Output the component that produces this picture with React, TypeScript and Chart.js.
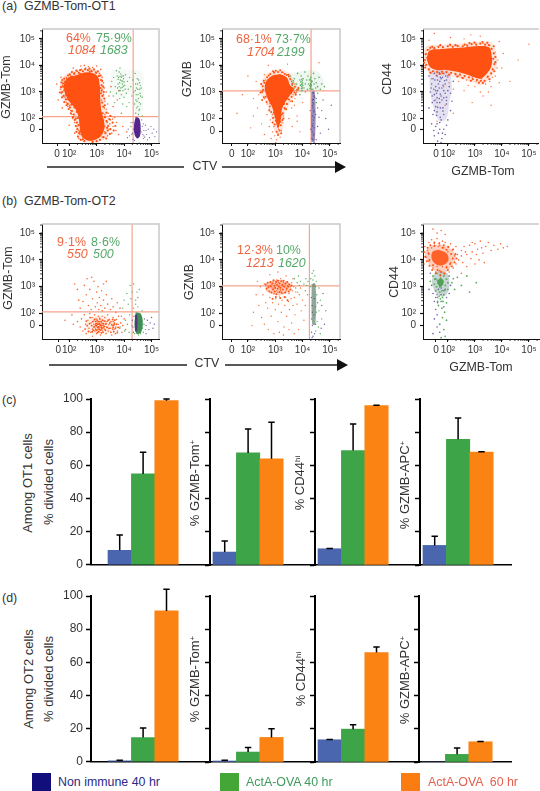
import React, { useEffect, useRef } from "react";
import { Chart, registerables } from "chart.js";
Chart.register(...registerables);

type Pt = [number, number];
const FONT = '"Liberation Sans", Arial, sans-serif';
const ORANGE = "#ff5212";
const HALO = "rgba(255,90,30,0.16)";
const DOT_ORANGE = "#fb6a35";
const DOT_GREEN = "#58ad5e";
const DOT_PURPLE = "#6f5fa8";
const CORE_PURPLE = "#55248e";
const GATE = "#f6a48c";

// ---- bar values (percent) ----
const barGroups = ["Non immune 40 hr", "ActA-OVA 40 hr", "ActA-OVA 60 hr"];
const c1Values = [8.8, 54.8, 99];
const c1Upper = [18, 67.9, 100];
const c2Values = [7.8, 67.5, 64];
const c2Upper = [14.5, 82, 86];
const c3Values = [9.8, 69, 96];
const c3Upper = [10, 85, 96.2];
const c4Values = [11.8, 75.7, 68];
const c4Upper = [17.3, 88.6, 68.2];
const d1Values = [0.6, 14.6, 91];
const d1Upper = [1, 20.4, 104];
const d2Values = [0.6, 6, 14.8];
const d2Upper = [1, 8.8, 20];
const d3Values = [13.4, 19.8, 65.9];
const d3Upper = [13.6, 22.4, 69.3];
const d4Values = [0, 4.6, 12.2];
const d4Upper = [0, 8.4, 12.4];
const barYTicks = [0, 20, 40, 60, 80, 100];

// ---- flow cytometry axes: values are log10 fluorescence ----
const flowTickLabels = ["0", "10²", "10³", "10⁴", "10⁵"];

// (a) left: GZMB-Tom vs CTV
const a1Gate: Pt = [4.33, 2.07];
const a1Blob: Pt[] = [[2.22,3.62],[2.65,3.74],[3.01,3.62],[3.11,3.28],[3.13,2.79],[3.17,2.3],[3.28,1.82],[3.23,1.45],[3.01,1.23],[2.71,1.16],[2.46,1.33],[2.38,1.7],[2.34,2.06],[2.22,2.37],[1.98,2.67],[1.82,3.04],[1.82,3.34],[1.98,3.55],[2.22,3.62]];
const a1Halo: Pt[] = [[2.15,3.78],[2.65,3.88],[3.12,3.75],[3.25,3.3],[3.28,2.8],[3.32,2.3],[3.45,1.8],[3.4,1.35],[3.1,1.12],[2.7,1.1],[2.35,1.22],[2.25,1.65],[2.2,2.0],[2.08,2.3],[1.85,2.6],[1.68,3.0],[1.68,3.4],[1.85,3.65],[2.15,3.78]];
const a1GreenCloud: Pt[] = [[3.55,3.85],[4.1,3.85],[4.65,3.75],[4.7,3.0],[4.65,2.2],[4.4,2.2],[4.3,2.9],[4.05,2.85],[3.7,2.75],[3.5,3.1],[3.55,3.85]];
const a1Column: Pt[] = [[4.42,2.06],[4.55,2.0],[4.6,1.7],[4.58,1.35],[4.48,1.25],[4.38,1.4],[4.36,1.75],[4.42,2.06]];
const a1Edge: Pt[] = [[1.75,3.45],[1.78,3.2],[1.74,3.0],[1.8,2.85],[1.88,2.72],[1.95,2.55],[2.03,2.42],[2.1,2.28],[2.17,2.15],[2.24,2.0],[2.28,1.85],[2.3,1.6],[2.36,1.45],[2.42,1.2],[2.55,1.15],[2.85,1.12],[3.0,1.15],[3.12,1.2],[3.25,1.3],[3.32,1.45],[3.38,1.65],[3.36,1.9],[3.3,2.05],[3.22,2.2],[3.24,2.45],[3.2,2.6],[3.21,2.85],[3.18,3.05],[3.18,3.25],[3.16,3.45],[3.08,3.6],[2.98,3.72],[2.82,3.78],[2.68,3.82],[2.5,3.78],[2.35,3.72],[2.18,3.68],[2.02,3.66],[1.92,3.48],[1.86,3.38],[1.84,3.1],[1.88,2.9],[1.97,2.72],[2.08,2.52],[2.2,2.45],[2.28,2.25],[2.32,2.02],[2.34,1.75],[2.4,1.52],[2.5,1.22],[3.15,1.42],[3.28,1.7],[3.18,2.0],[3.12,2.42],[3.16,2.95],[3.14,3.15],[3.05,3.45],[2.75,3.76],[2.4,3.68],[2.1,3.58],[1.78,3.32],[3.4,1.55],[3.42,1.72],[3.35,1.25],[3.5,1.6],[3.48,1.42],[3.5,2.1],[3.58,1.85],[3.62,1.55],[3.68,1.72],[3.46,1.98],[3.36,2.22],[3.3,2.5],[3.28,2.75],[3.26,3.0],[3.24,3.2],[3.2,3.42],[3.14,3.62],[3.04,3.78],[2.9,3.85],[2.74,3.88],[2.58,3.86],[2.4,3.82],[2.26,3.8],[2.1,3.75],[1.96,3.62],[1.82,3.5],[1.72,3.36],[1.7,3.18],[1.66,2.98],[1.74,2.8],[1.82,2.62],[1.9,2.5],[1.98,2.36],[2.06,2.2],[2.14,2.05],[2.2,1.95],[2.24,1.72],[2.26,1.5],[2.32,1.32]];
const a1Orange: Pt[] = [[2.3,3.78],[2.45,3.85],[2.6,3.9],[2.8,3.82],[2.95,3.75],[3.1,3.7],[2.2,3.72],[2.05,3.6],[2.7,3.95],[3.2,3.55],[1.9,3.55],[1.82,3.4],[1.75,3.25],[1.8,3.05],[1.72,2.95],[1.85,2.8],[1.9,2.6],[1.95,2.45],[2.05,2.3],[2.1,2.15],[1.85,3.15],[1.95,3.45],[1.68,3.1],[2.0,2.7],[2.12,2.0],[2.2,1.85],[2.28,1.7],[2.35,1.55],[2.4,1.4],[2.5,1.3],[2.65,1.25],[2.8,1.28],[2.95,1.33],[3.05,1.42],[3.15,1.55],[3.2,1.75],[3.25,1.95],[3.3,2.15],[3.28,2.4],[3.3,2.65],[3.25,2.9],[3.28,3.15],[3.25,3.35],[3.35,3.0],[3.4,2.55],[3.42,2.2],[3.38,1.85],[3.45,1.6],[3.5,1.95],[3.55,1.45],[3.6,1.7],[3.65,2.05],[3.7,1.55],[3.72,1.85],[3.3,1.5],[3.4,1.35],[3.2,1.3],[3.48,1.8],[3.58,1.98],[3.35,2.35],[3.45,2.85],[3.52,3.2],[3.6,2.45],[3.15,3.85],[2.55,4.0],[2.15,3.9],[3.0,3.98],[1.6,2.7],[1.75,2.4],[1.55,3.3],[2.0,1.75],[2.2,1.45],[2.35,1.25],[3.8,1.4],[3.95,1.7],[3.9,2.2],[3.75,2.7],[3.82,3.05],[4.1,1.5],[1.7,3.55],[2.02,2.5],[2.18,2.4],[3.12,2.15],[3.18,2.7],[3.2,3.1],[3.12,1.35],[3.25,1.62],[2.92,1.22],[2.42,3.98],[2.85,3.92]];
const a1Green: Pt[] = [[3.5,3.0],[3.55,3.4],[3.6,2.85],[3.62,3.55],[3.68,3.2],[3.72,2.95],[3.75,3.6],[3.78,3.3],[3.8,3.05],[3.82,3.75],[3.84,2.75],[3.86,3.45],[3.88,3.15],[3.9,2.9],[3.92,3.6],[3.94,3.3],[3.96,3.05],[3.98,3.5],[4.0,2.8],[4.02,3.25],[4.05,3.65],[4.08,2.95],[4.12,3.4],[4.15,3.1],[4.18,2.6],[4.2,3.55],[4.24,3.2],[4.28,2.85],[4.32,3.45],[4.35,3.0],[4.38,2.55],[4.4,3.7],[4.42,3.3],[4.44,2.9],[4.46,2.4],[4.48,3.5],[4.5,3.1],[4.52,2.75],[4.54,2.3],[4.56,3.35],[4.58,2.95],[4.6,2.55],[4.62,3.15],[4.66,2.8],[3.85,3.9],[3.72,3.8],[3.95,2.55],[3.66,2.6],[4.1,2.45],[3.85,3.58],[3.92,3.42],[3.78,3.48],[3.88,3.68],[3.98,3.22],[4.52,2.15],[4.42,2.2],[4.7,1.8],[4.62,1.5],[4.66,2.1],[4.25,1.7],[4.28,1.4],[4.72,1.35],[3.82,3.2],[3.84,3.35],[3.86,3.05],[3.9,3.55],[3.93,3.18],[3.95,3.4],[3.97,3.6],[3.8,3.55],[3.76,3.15],[4.0,3.38],[4.04,3.1],[4.45,3.15],[4.47,2.65],[4.49,3.3],[4.51,2.9],[4.53,3.45],[4.55,2.6],[4.57,3.1],[4.43,2.7],[4.41,3.05],[4.6,2.85],[4.59,3.25],[4.5,2.45],[4.56,2.35]];
const a1Purple: Pt[] = [[4.15,1.6],[4.2,1.35],[4.25,1.85],[4.3,1.45],[4.32,1.22],[4.72,1.55],[4.78,1.75],[4.82,1.4],[4.88,1.6],[4.92,1.28],[4.98,1.7],[5.02,1.45],[5.08,1.6],[5.12,1.32],[5.18,1.5],[4.7,1.25],[4.8,1.55],[4.75,1.3],[4.85,1.2],[4.12,1.28],[4.38,1.18],[4.55,1.08],[4.66,1.7],[4.68,1.4],[4.64,1.95],[4.32,1.85],[4.34,1.6]];

// (a) middle: GZMB vs CTV
const a2Gate: Pt = [4.31, 3.04];
const a2Blob: Pt[] = [[3.17,3.68],[3.43,3.54],[3.54,3.25],[3.68,3.1],[3.54,2.88],[3.39,2.66],[3.25,2.37],[3.21,2.0],[3.1,1.63],[3.0,2.0],[2.88,2.44],[2.73,2.73],[2.62,3.1],[2.66,3.39],[2.88,3.61],[3.17,3.68]];
const a2Halo: Pt[] = [[3.15,3.85],[3.5,3.72],[3.72,3.35],[3.9,3.1],[3.65,2.75],[3.5,2.5],[3.35,2.2],[3.3,1.7],[3.15,1.35],[2.95,1.6],[2.85,2.1],[2.72,2.55],[2.5,2.85],[2.45,3.15],[2.55,3.5],[2.85,3.78],[3.15,3.85]];
const a2GreenCloud: Pt[] = [[3.5,3.7],[4.5,3.8],[4.8,3.3],[4.6,3.05],[3.7,3.05],[3.5,3.7]];
const a2Column: Pt[] = [[4.33,3.0],[4.45,3.0],[4.45,1.15],[4.33,1.15],[4.33,3.0]];
const a2Edge: Pt[] = [[3.1,3.75],[3.25,3.74],[3.42,3.64],[3.55,3.48],[3.62,3.3],[3.72,3.2],[3.8,3.08],[3.7,2.98],[3.6,2.82],[3.5,2.72],[3.42,2.55],[3.34,2.4],[3.28,2.2],[3.26,1.95],[3.2,1.75],[3.16,1.55],[3.05,1.5],[2.98,1.78],[2.92,2.02],[2.85,2.25],[2.8,2.45],[2.68,2.62],[2.58,2.8],[2.52,3.0],[2.54,3.22],[2.58,3.42],[2.7,3.55],[2.82,3.68],[2.96,3.72],[3.02,3.8],[3.35,3.68],[3.5,3.58],[3.62,3.12],[3.58,2.95],[3.44,2.75],[3.32,2.55],[3.24,2.15],[3.18,1.88],[3.02,1.92],[2.95,2.22],[2.82,2.58],[2.65,2.82],[2.56,3.08],[2.6,3.35],[2.76,3.62],[2.92,3.78],[3.18,3.82],[3.48,3.65],[3.85,3.15],[3.75,2.9],[3.62,2.65],[3.4,2.35],[3.3,2.0],[3.22,1.45],[3.1,1.38],[2.9,1.85],[2.78,2.3],[2.52,2.7],[2.46,2.98],[2.48,3.3]];
const a2Orange: Pt[] = [[2.5,3.3],[2.55,3.05],[2.6,2.75],[2.4,2.9],[2.65,3.45],[2.7,2.55],[2.78,2.35],[2.7,2.15],[2.82,1.95],[2.78,1.7],[2.9,1.5],[2.98,1.35],[2.85,1.25],[3.05,1.2],[3.18,1.3],[3.22,1.55],[3.25,1.85],[3.3,2.1],[3.35,2.35],[3.45,2.55],[3.55,2.65],[3.6,2.4],[3.72,2.75],[3.7,2.5],[3.5,2.0],[3.62,1.7],[3.8,2.1],[3.9,1.5],[2.35,2.4],[2.2,2.1],[2.1,1.65],[2.5,1.8],[2.6,1.4],[2.3,3.4],[2.6,3.65],[2.95,3.75],[3.3,3.72],[3.55,3.5],[3.72,3.3],[3.65,2.9],[3.78,3.0],[2.95,1.7],[3.12,1.6],[3.05,1.85],[3.15,2.0],[2.9,2.15],[3.2,2.35],[2.95,2.05],[3.1,1.45],[3.02,1.1],[2.0,3.6],[2.2,2.75],[4.0,2.6],[4.1,3.0],[2.75,4.0],[3.45,4.05],[1.8,2.9],[1.6,2.2],[4.6,4.1],[3.8,1.9]];
const a2Green: Pt[] = [[3.5,3.25],[3.55,3.6],[3.6,3.4],[3.65,3.15],[3.7,3.5],[3.78,3.3],[3.82,3.7],[3.85,3.1],[3.9,3.45],[3.92,3.25],[3.95,3.6],[3.98,3.05],[4.0,3.35],[4.02,3.5],[4.05,3.15],[4.08,3.75],[4.1,3.3],[4.15,3.45],[4.18,3.1],[4.2,3.6],[4.22,3.3],[4.25,3.45],[4.27,3.12],[4.3,3.55],[4.32,3.25],[4.35,3.4],[4.38,3.1],[4.4,3.7],[4.42,3.3],[4.45,3.5],[4.48,3.15],[4.5,3.35],[4.55,3.2],[4.6,3.55],[4.65,3.1],[4.7,3.3],[4.8,3.2],[3.98,3.3],[3.97,3.2],[3.99,3.42],[3.96,3.12],[4.3,3.2],[4.29,3.32],[4.31,3.42],[4.45,2.8],[4.5,2.6],[4.55,2.95],[3.75,2.95],[3.9,2.9],[3.96,3.28],[3.99,3.15],[4.01,3.25],[3.94,3.38],[3.97,3.48],[3.65,3.35],[3.62,3.25],[3.68,3.12],[3.66,3.42],[4.28,3.15],[4.3,3.28],[4.32,3.38],[4.28,3.48],[4.33,3.1],[4.26,3.24]];
const a2Purple: Pt[] = [[4.38,3.0],[4.42,2.85],[4.36,2.7],[4.4,2.55],[4.38,2.4],[4.42,2.25],[4.36,2.1],[4.4,1.95],[4.38,1.8],[4.42,1.65],[4.36,1.5],[4.4,1.35],[4.38,1.2],[4.42,1.1],[4.5,2.75],[4.55,2.4],[4.6,2.05],[4.55,1.7],[4.65,1.45],[4.7,2.3],[4.75,2.7],[4.85,2.0],[4.95,1.6],[5.05,2.5],[4.3,1.6],[4.28,2.3],[4.34,1.25],[4.39,2.95],[4.37,2.6],[4.41,2.3],[4.4,2.72],[4.36,2.48],[4.43,2.05],[4.37,1.72],[4.41,1.42],[4.5,1.2],[4.48,2.15]];

// (a) right: CD44 vs GZMB-Tom
const a3Blob: Pt[] = [[1.21,4.26],[1.33,4.56],[1.82,4.62],[2.43,4.66],[3.04,4.72],[3.52,4.68],[3.62,4.38],[3.62,4.01],[3.46,3.71],[3.22,3.5],[2.98,3.55],[2.67,3.67],[2.3,3.77],[1.94,3.83],[1.57,3.83],[1.33,3.95],[1.21,4.26]];
const a3Halo: Pt[] = [[1.1,4.3],[1.2,4.72],[1.8,4.78],[2.45,4.82],[3.05,4.9],[3.62,4.85],[3.8,4.4],[3.8,3.95],[3.6,3.55],[3.25,3.25],[2.95,3.35],[2.65,3.45],[2.25,3.55],[1.9,3.62],[1.5,3.65],[1.22,3.8],[1.1,4.3]];
const a3PurpleCloud: Pt[] = [[1.3,3.8],[2.0,3.8],[2.15,3.2],[2.05,2.6],[1.95,2.0],[1.7,1.9],[1.5,2.3],[1.35,3.0],[1.3,3.8]];
const a3Edge: Pt[] = [[1.15,4.2],[1.18,4.42],[1.25,4.58],[1.35,4.66],[1.5,4.64],[1.65,4.7],[1.82,4.68],[2.0,4.72],[2.18,4.7],[2.35,4.74],[2.55,4.72],[2.72,4.74],[2.88,4.8],[3.05,4.78],[3.2,4.82],[3.38,4.78],[3.52,4.76],[3.62,4.62],[3.7,4.45],[3.68,4.25],[3.72,4.05],[3.66,3.85],[3.6,3.7],[3.48,3.58],[3.36,3.42],[3.22,3.42],[3.08,3.45],[2.92,3.48],[2.78,3.55],[2.62,3.6],[2.45,3.65],[2.28,3.68],[2.12,3.72],[1.95,3.75],[1.78,3.76],[1.6,3.75],[1.45,3.78],[1.3,3.85],[1.2,4.02],[1.12,4.1],[1.42,4.7],[1.72,4.76],[2.08,4.78],[2.28,4.76],[2.62,4.78],[2.8,4.84],[2.98,4.86],[3.28,4.88],[3.46,4.85],[3.7,4.72],[3.76,4.32],[3.76,4.12],[3.72,3.78],[3.54,3.48],[3.3,3.34],[3.15,3.35],[2.85,3.42],[2.55,3.52],[2.35,3.58],[2.05,3.65],[1.7,3.68],[1.36,3.72],[1.16,3.92]];
const a3Orange: Pt[] = [[1.2,4.45],[1.3,4.6],[1.5,4.68],[1.8,4.7],[2.1,4.75],[2.4,4.72],[2.7,4.78],[3.0,4.85],[3.3,4.82],[3.55,4.75],[3.75,4.5],[3.85,4.2],[3.82,3.9],[3.75,3.6],[3.55,3.4],[3.4,3.3],[3.25,3.5],[3.1,3.65],[2.9,3.55],[2.7,3.45],[2.5,3.55],[2.3,3.65],[2.0,3.55],[1.8,3.7],[1.3,3.85],[1.15,4.0],[1.2,4.3],[1.6,3.6],[1.85,3.2],[2.2,3.1],[2.6,3.05],[3.0,3.2],[3.2,3.0],[3.3,2.85],[3.5,3.0],[3.9,3.35],[4.0,3.9],[4.05,4.45],[3.2,5.1],[2.6,5.0],[2.1,5.05],[1.5,5.2],[1.3,4.95],[2.85,5.15],[3.9,4.9],[1.75,3.9],[2.4,3.6],[3.6,3.2],[3.65,3.55],[3.45,3.55],[3.05,3.4],[2.75,3.25],[1.4,3.5],[2.4,3.4],[2.05,3.35],[1.55,2.7],[1.9,2.5],[2.2,2.2],[1.6,1.9],[2.9,2.6],[3.6,2.5],[4.3,3.4],[4.6,4.2],[5.0,4.8]];
const a3Purple: Pt[] = [[1.3,3.6],[1.4,3.3],[1.45,3.5],[1.55,3.2],[1.6,3.6],[1.7,3.4],[1.8,3.55],[1.9,3.3],[2.0,3.6],[2.05,3.2],[1.35,3.0],[1.5,2.9],[1.62,3.05],[1.75,2.85],[1.85,3.05],[1.95,2.8],[2.1,2.95],[1.42,2.6],[1.55,2.45],[1.7,2.6],[1.82,2.4],[1.95,2.55],[2.1,2.3],[1.45,2.15],[1.6,2.25],[1.72,2.05],[1.85,2.15],[2.0,1.95],[1.4,1.8],[1.55,1.7],[1.7,1.85],[1.85,1.6],[1.95,1.75],[1.5,1.35],[1.65,1.45],[1.78,1.25],[1.9,1.4],[1.62,1.15],[1.75,1.1],[1.3,2.4],[2.2,3.4],[1.65,3.3],[1.52,3.45],[1.78,3.15],[1.88,3.42],[1.48,3.1],[1.68,2.75],[1.58,2.95],[1.78,2.7],[1.9,2.95],[1.42,2.85],[2.15,2.65],[1.6,2.6],[1.72,3.55],[1.92,3.6],[1.58,3.62],[1.5,3.7],[1.68,3.72],[1.85,3.7],[1.62,3.45],[1.75,3.5],[1.95,3.45],[1.38,3.15],[1.68,3.15],[1.82,3.25],[1.55,3.05],[2.0,3.05],[1.72,2.92],[1.6,2.78],[1.85,2.78],[1.5,2.68],[1.95,2.68],[1.72,2.4],[1.62,2.42],[1.5,2.3],[1.82,2.28],[1.58,2.12],[1.75,1.95],[1.6,1.8],[1.48,1.55],[1.7,1.6],[1.8,1.45]];

// (b) left
const b1Gate: Pt = [4.29, 2.06];
const b1Band: Pt[] = [[2.55,1.6],[2.8,1.85],[3.3,1.88],[3.65,1.7],[3.6,1.35],[3.2,1.25],[2.75,1.27],[2.55,1.6]];
const b1Column: Pt[] = [[4.42,2.05],[4.6,2.0],[4.68,1.7],[4.62,1.3],[4.45,1.25],[4.38,1.6],[4.42,2.05]];
const b1ColumnEdge: Pt[] = [[4.4,1.95],[4.47,1.95],[4.47,1.35],[4.4,1.35],[4.4,1.95]];
const b1Dense: Pt[] = [[2.58,1.42],[2.62,1.72],[2.66,1.55],[2.7,1.33],[2.74,1.62],[2.76,1.85],[2.82,1.55],[2.84,1.32],[2.86,1.7],[2.88,1.38],[2.92,1.5],[2.92,1.78],[2.96,1.42],[2.97,1.7],[3.0,1.38],[3.0,1.55],[3.02,1.75],[3.03,1.3],[3.05,1.6],[3.06,1.5],[3.08,1.7],[3.08,1.32],[3.1,1.42],[3.11,1.82],[3.13,1.55],[3.14,1.38],[3.16,1.7],[3.17,1.28],[3.19,1.55],[3.2,1.45],[3.21,1.75],[3.23,1.3],[3.25,1.62],[3.28,1.52],[3.3,1.72],[3.32,1.38],[3.34,1.62],[3.38,1.48],[3.42,1.75],[3.45,1.45],[3.48,1.65],[3.52,1.3],[3.55,1.58],[3.58,1.78],[3.6,1.48],[3.62,1.32],[3.64,1.6],[3.66,1.75],[3.68,1.45],[3.72,1.6],[3.75,1.28],[3.78,1.48],[2.98,1.62],[3.04,1.48],[3.1,1.62],[3.18,1.48]];
const b1Orange: Pt[] = [[2.3,1.7],[2.4,1.5],[2.45,1.8],[2.5,1.35],[2.55,1.95],[2.6,1.6],[2.62,1.25],[2.68,1.75],[2.72,1.45],[2.75,2.0],[2.78,1.3],[2.8,1.65],[2.83,1.85],[2.85,1.15],[2.88,1.5],[2.9,1.72],[2.92,1.95],[2.94,1.35],[2.96,1.6],[2.98,1.8],[3.0,1.25],[3.02,1.5],[3.04,1.68],[3.06,1.9],[3.08,1.4],[3.1,1.6],[3.12,1.78],[3.14,1.2],[3.16,1.48],[3.18,1.65],[3.2,1.9],[3.22,1.35],[3.24,1.55],[3.26,1.72],[3.28,1.42],[3.3,1.85],[3.32,1.6],[3.34,1.25],[3.36,1.5],[3.38,1.7],[3.4,1.95],[3.42,1.35],[3.44,1.58],[3.46,1.78],[3.5,1.45],[3.52,1.7],[3.55,1.2],[3.58,1.55],[3.6,1.85],[3.63,1.4],[3.65,1.65],[3.68,1.25],[3.7,1.5],[3.72,1.78],[3.76,1.35],[3.78,1.6],[3.8,1.9],[3.84,1.45],[3.88,1.65],[3.92,1.3],[3.95,1.55],[2.95,1.55],[3.0,1.62],[3.05,1.42],[3.1,1.5],[3.15,1.6],[3.12,1.7],[3.22,1.62],[3.25,1.48],[3.18,1.4],[2.9,1.6],[2.85,1.42],[3.62,1.55],[3.6,1.7],[3.58,1.42],[2.4,2.2],[2.5,2.45],[2.55,3.05],[2.62,2.7],[2.7,2.3],[2.75,2.9],[2.8,2.15],[2.85,2.55],[2.9,3.2],[2.95,2.25],[3.0,2.8],[3.02,2.4],[3.05,3.0],[3.08,2.15],[3.1,2.6],[3.15,2.3],[3.18,2.85],[3.2,2.1],[3.25,2.5],[3.3,2.2],[3.35,2.7],[3.4,2.35],[3.5,2.15],[3.55,2.55],[3.6,2.25],[3.7,2.05],[3.75,2.4],[3.85,2.2],[2.3,2.9],[2.35,2.5],[2.2,3.1],[2.65,3.3],[2.15,1.6],[2.1,1.95],[2.82,3.35],[3.25,3.1],[3.35,3.2],[4.0,1.8],[4.05,1.4],[1.85,1.75]];
const b1Green: Pt[] = [[3.85,1.5],[3.9,1.9],[3.95,2.2],[4.0,2.5],[4.02,1.35],[4.05,1.75],[4.1,2.75],[4.12,1.6],[4.15,2.35],[4.18,1.3],[4.2,1.95],[4.22,3.05],[4.25,2.55],[4.28,1.55],[4.3,2.8],[4.35,2.2],[4.38,1.25],[4.42,2.5],[4.45,1.95],[4.47,2.8],[4.5,2.25],[4.52,1.2],[4.55,1.35],[4.6,1.25],[4.66,1.45],[4.7,1.3],[4.72,1.6],[4.78,1.4],[4.42,2.35],[4.5,2.6],[4.55,2.9],[4.35,3.1],[4.6,1.85],[4.65,2.1]];
const b1Purple: Pt[] = [[4.3,1.75],[4.32,1.5],[4.34,1.3],[4.74,1.8],[4.8,1.55],[4.85,1.75],[4.9,1.4],[4.95,1.65],[5.0,1.85],[5.05,1.45],[5.1,1.6],[4.8,1.25],[4.36,1.9]];

// (b) middle
const b2Gate: Pt = [4.25, 3.03];
const b2Band: Pt[] = [[2.62,3.0],[2.8,3.2],[3.2,3.25],[3.5,3.15],[3.55,2.9],[3.3,2.72],[2.9,2.72],[2.62,3.0]];
const b2Column: Pt[] = [[4.33,3.1],[4.47,3.1],[4.47,1.6],[4.35,1.6],[4.33,3.1]];
const b2Dense: Pt[] = [[2.65,3.08],[2.68,2.92],[2.72,3.15],[2.75,2.98],[2.78,2.82],[2.82,3.18],[2.84,3.02],[2.86,2.78],[2.9,3.12],[2.92,2.9],[2.94,3.24],[2.97,3.04],[2.98,2.82],[3.0,2.95],[3.03,3.18],[3.04,2.72],[3.06,3.08],[3.09,2.92],[3.1,3.22],[3.13,3.0],[3.15,2.8],[3.16,3.12],[3.19,2.96],[3.22,3.2],[3.23,2.78],[3.26,3.06],[3.28,2.9],[3.3,3.22],[3.33,3.0],[3.36,2.78],[3.38,3.12],[3.42,2.92],[3.44,3.18],[3.47,3.0],[3.5,2.82],[3.52,3.08],[3.56,2.9],[3.6,3.05],[3.02,2.62],[3.18,2.58],[3.34,2.62],[2.9,2.55],[3.45,2.5]];
const b2Orange: Pt[] = [[2.45,3.0],[2.55,2.7],[2.6,3.1],[2.65,2.4],[2.7,2.85],[2.72,2.2],[2.78,3.05],[2.8,2.6],[2.85,1.9],[2.88,2.95],[2.9,2.4],[2.92,3.2],[2.95,2.75],[3.0,2.15],[3.02,2.55],[3.05,3.25],[3.08,2.8],[3.1,1.7],[3.12,2.35],[3.15,2.65],[3.18,2.9],[3.2,3.3],[3.22,2.05],[3.25,2.5],[3.28,2.75],[3.3,3.15],[3.32,1.5],[3.35,2.3],[3.38,2.6],[3.4,2.85],[3.42,1.9],[3.45,3.05],[3.48,2.45],[3.5,2.75],[3.52,2.15],[3.55,3.0],[3.58,2.55],[3.6,1.65],[3.62,2.85],[3.65,2.3],[3.68,3.0],[3.7,2.6],[3.72,1.95],[3.75,2.8],[3.8,2.35],[3.85,1.4],[3.88,2.7],[3.92,2.95],[3.95,2.1],[4.0,2.5],[4.05,1.75],[4.1,2.3],[2.4,2.3],[2.5,1.85],[2.6,1.6],[2.75,1.4],[2.95,1.25],[3.15,1.3],[3.3,1.2],[3.5,1.4],[3.7,1.25],[2.3,2.7],[2.2,2.05],[2.15,1.55],[2.8,3.45],[3.1,3.55],[3.4,3.4],[3.65,3.3],[2.35,3.2],[3.35,3.1],[3.25,3.1],[3.12,3.15],[3.0,3.12],[2.85,3.1],[3.4,2.95],[3.5,3.1],[3.05,2.85],[3.2,2.85],[2.95,2.95],[3.6,3.15],[3.1,3.05],[3.28,3.02]];
const b2Green: Pt[] = [[3.7,3.3],[3.75,2.95],[3.8,3.15],[3.82,2.8],[3.85,3.4],[3.88,3.05],[3.92,3.2],[4.05,3.1],[4.1,2.85],[4.12,3.3],[4.15,3.05],[4.18,2.7],[4.2,3.2],[4.28,3.0],[4.3,3.3],[4.35,3.5],[4.38,3.25],[4.4,3.6],[4.42,3.1],[4.45,3.4],[4.48,3.0],[4.5,3.2],[4.52,2.7],[4.55,2.4],[4.6,2.95],[4.65,2.5],[4.6,2.1],[4.7,1.8],[4.58,1.5],[4.65,1.25],[4.5,2.05],[4.53,1.7],[4.48,1.35]];
const b2Purple: Pt[] = [[4.32,2.6],[4.35,2.3],[4.36,2.05],[4.33,1.8],[4.36,1.55],[4.33,1.3],[4.38,1.15],[4.44,2.55],[4.46,2.25],[4.42,1.95],[4.47,1.6],[4.44,1.25],[4.7,2.3],[4.75,2.75],[4.8,1.6],[4.68,1.45],[4.85,2.1],[4.35,1.1]];

// (b) right
const b3Halo: Pt[] = [[1.65,4.58],[2.05,4.45],[2.3,4.1],[2.1,3.72],[1.85,3.5],[1.55,3.58],[1.3,3.85],[1.15,4.2],[1.32,4.5],[1.65,4.58]];
const b3Blob: Pt[] = [[1.65,4.38],[1.95,4.25],[2.02,3.98],[1.8,3.8],[1.55,3.84],[1.4,4.05],[1.43,4.3],[1.65,4.38]];
const b3GreenCloud: Pt[] = [[1.65,3.6],[1.98,3.5],[2.05,3.0],[1.88,2.65],[1.58,2.75],[1.42,3.1],[1.45,3.4],[1.65,3.6]];
const b3GreenCore: Pt[] = [[1.72,3.35],[1.85,3.2],[1.75,3.0],[1.6,3.15],[1.72,3.35]];
const b3Edge: Pt[] = [[1.25,4.45],[1.35,4.55],[1.5,4.65],[1.68,4.62],[1.85,4.55],[2.02,4.48],[2.18,4.38],[2.28,4.22],[2.32,4.05],[2.25,3.9],[2.15,3.75],[2.0,3.62],[1.88,3.48],[1.72,3.42],[1.55,3.5],[1.42,3.62],[1.32,3.78],[1.22,3.95],[1.16,4.12],[1.12,4.3],[2.12,4.22],[2.18,4.05],[2.08,3.85],[1.45,3.8],[1.32,4.0],[1.28,4.25],[1.5,4.52],[1.8,4.45],[1.95,4.38],[1.62,3.62],[1.75,3.55],[1.95,3.72]];
const b3Orange: Pt[] = [[1.15,4.5],[1.25,4.35],[1.3,4.65],[1.4,4.75],[1.5,4.6],[1.6,4.8],[1.7,4.55],[1.8,4.7],[1.9,4.65],[2.0,4.5],[2.1,4.6],[2.2,4.4],[2.3,4.5],[2.35,4.2],[2.4,4.0],[2.3,3.85],[2.2,3.7],[2.1,3.9],[2.05,3.55],[1.95,3.75],[1.85,3.5],[1.55,3.55],[1.45,3.7],[1.3,3.95],[1.2,4.1],[1.12,3.85],[1.6,5.0],[1.75,5.1],[1.45,5.15],[1.9,4.95],[2.5,4.35],[2.6,4.5],[2.7,4.2],[2.8,4.55],[2.9,4.3],[3.0,4.6],[3.1,4.4],[3.2,4.7],[3.3,4.25],[3.4,4.5],[3.5,4.65],[3.6,4.35],[3.7,4.55],[3.85,4.4],[3.95,4.6],[4.05,4.45],[4.2,4.5],[2.55,3.9],[2.7,3.75],[2.85,4.05],[3.0,3.85],[3.15,4.0],[3.35,3.9],[2.5,4.15],[2.65,4.3],[2.9,4.65],[3.25,4.45],[3.05,4.2],[2.5,3.5],[1.7,3.6],[1.6,3.75],[1.8,3.75],[2.0,4.3],[2.25,4.15],[1.3,4.2],[1.4,4.45],[1.65,4.5],[1.85,4.45]];
const b3Green: Pt[] = [[1.45,3.4],[1.5,3.1],[1.55,2.85],[1.6,3.5],[1.62,2.6],[1.7,2.8],[1.75,2.45],[1.78,2.2],[1.85,2.7],[1.88,2.05],[1.8,1.85],[1.95,2.4],[1.7,1.6],[1.85,1.4],[1.95,1.75],[2.0,2.9],[2.05,3.4],[2.15,3.15],[2.25,2.9],[2.35,3.35],[2.5,3.05],[2.7,3.4],[2.8,2.8],[3.05,3.15],[1.9,1.15],[1.75,1.1],[1.35,3.2],[1.65,2.3],[1.72,2.55],[1.8,2.6],[1.7,3.0],[1.58,3.0],[1.9,3.05],[2.0,3.15],[1.6,3.25],[1.72,3.45],[1.85,3.4],[1.95,3.28],[1.52,3.28],[1.68,2.65],[1.78,2.85],[1.9,2.88],[1.62,2.45],[1.82,2.45]];
const b3Purple: Pt[] = [[1.35,3.5],[1.4,3.05],[1.45,2.75],[1.5,2.45],[1.55,2.15],[1.6,2.7],[1.65,2.9],[1.75,2.7],[1.9,2.9],[1.95,2.6],[2.05,2.75],[2.1,3.05],[2.2,3.3],[1.3,2.9],[1.5,1.8],[1.6,1.5],[1.6,1.95],[1.45,1.25],[1.7,1.3],[1.55,3.3],[1.85,2.25],[1.62,2.4],[1.55,2.6],[1.75,2.95],[1.85,2.85]];

// ---- helpers ----
const minorOffsets = [0.301, 0.477, 0.602, 0.699, 0.778, 0.845, 0.903, 0.954];

const flowPlugin = {
  id: "flowFrame",
  afterDraw(chart: any, _a: any, opts: any) {
    const { ctx, chartArea: a, scales } = chart;
    ctx.save();
    ctx.strokeStyle = "#c9c9c9";
    ctx.lineWidth = 1.5;
    ctx.beginPath();
    ctx.moveTo(a.left, a.top);
    ctx.lineTo(a.right, a.top);
    if (opts.rightEdge) ctx.lineTo(a.right, a.bottom);
    ctx.stroke();
    ctx.strokeStyle = "#111";
    ctx.lineWidth = 0.8;
    ctx.beginPath();
    for (let d = 2; d <= 5; d++) {
      for (const o of [0, ...minorOffsets]) {
        const v = d + o;
        if (v >= scales.x.min && v <= scales.x.max) {
          const p = scales.x.getPixelForValue(v);
          ctx.moveTo(p, a.bottom);
          ctx.lineTo(p, a.bottom + 2);
        }
        if (v >= scales.y.min && v <= scales.y.max) {
          const p = scales.y.getPixelForValue(v);
          ctx.moveTo(a.left, p);
          ctx.lineTo(a.left - 2, p);
        }
      }
    }
    ctx.stroke();
    ctx.restore();
  },
};

const errorPlugin = {
  id: "errorBars",
  afterDatasetsDraw(chart: any, _a: any, opts: any) {
    const { ctx, scales } = chart;
    const values: number[] = chart.data.datasets[0].data.map((d: any) => d.y);
    ctx.save();
    ctx.strokeStyle = "#000";
    ctx.lineWidth = 1.5;
    opts.upper.forEach((u: number, i: number) => {
      if (!u) return;
      const x = scales.x.getPixelForValue(i);
      const y0 = scales.y.getPixelForValue(values[i]);
      const y1 = scales.y.getPixelForValue(u);
      ctx.beginPath();
      ctx.moveTo(x, y0);
      ctx.lineTo(x, y1);
      ctx.moveTo(x - 3.2, y1);
      ctx.lineTo(x + 3.2, y1);
      ctx.stroke();
    });
    ctx.restore();
  },
};

type Layer = { data: Pt[]; color: string; r?: number };
type FlowProps = {
  left: number; right: number; top: number; bottom: number;
  xRange: Pt; yRange: Pt; xZero: number; yZero: number;
  gate?: Pt; layers: Layer[]; rightEdge?: boolean;
};

function FlowPlot(p: FlowProps) {
  const ref = useRef<HTMLCanvasElement>(null);
  const padL = 30, padT = 8, padB = 22;
  const canvasLeft = p.left - padL;
  const canvasRight = Math.min(540, p.right + 10);
  const width = canvasRight - canvasLeft;
  const height = p.bottom - p.top + padT + padB;
  useEffect(() => {
    const gateSets = p.gate
      ? [
          { type: "line", data: [[p.gate[0], p.yRange[0]], [p.gate[0], p.yRange[1]]], borderColor: GATE, borderWidth: 1.2, pointRadius: 0 },
          { type: "line", data: [[p.xRange[0], p.gate[1]], [p.xRange[1], p.gate[1]]], borderColor: GATE, borderWidth: 1.2, pointRadius: 0 },
        ]
      : [];
    const chart = new Chart(ref.current!, {
      type: "scatter",
      data: {
        datasets: [
          ...p.layers.map((l) =>
            l.r
              ? { data: l.data, backgroundColor: l.color, borderWidth: 0, pointRadius: l.r, pointHoverRadius: l.r, pointBorderWidth: 0 }
              : { type: "line", data: l.data, backgroundColor: l.color, borderWidth: 0, pointRadius: 0, fill: "shape", tension: 0.35 }
          ),
          ...gateSets,
        ] as any,
      },
      options: {
        animation: false,
        responsive: false,
        maintainAspectRatio: false,
        layout: { padding: { top: padT, right: canvasRight - p.right, left: 0, bottom: 0 } },
        plugins: { legend: { display: false }, tooltip: { enabled: false }, flowFrame: { rightEdge: p.rightEdge } } as any,
        scales: {
          x: {
            type: "linear", min: p.xRange[0], max: p.xRange[1],
            afterBuildTicks: (s: any) => { s.ticks = [p.xZero, 2, 3, 4, 5].map((value) => ({ value })); },
            afterFit: (s: any) => { s.height = padB; },
            ticks: { autoSkip: false, maxRotation: 0, padding: 2, color: "#333", font: { family: FONT, size: 10 }, callback: (_v: any, i: number) => flowTickLabels[i] },
            grid: { display: true, drawOnChartArea: false, tickLength: 3, tickColor: "#111", tickWidth: 1 },
            border: { display: true, color: "#111", width: 1 },
          },
          y: {
            type: "linear", min: p.yRange[0], max: p.yRange[1],
            afterBuildTicks: (s: any) => { s.ticks = [p.yZero, 2, 3, 4, 5].map((value) => ({ value })); },
            afterFit: (s: any) => { s.width = padL; },
            ticks: { autoSkip: false, padding: 4, color: "#333", font: { family: FONT, size: 10 }, callback: (_v: any, i: number) => flowTickLabels[i] },
            grid: { display: true, drawOnChartArea: false, tickLength: 3, tickColor: "#111", tickWidth: 1.2 },
            border: { display: true, color: "#111", width: 1 },
          },
        } as any,
      },
      plugins: [flowPlugin],
    } as any);
    return () => chart.destroy();
  }, []);
  return <canvas ref={ref} width={width} height={height} style={{ position: "absolute", left: canvasLeft, top: p.top - padT, width, height }} />;
}

type BarProps = { axis: number; end: number; top: number; bottom: number; values: number[]; upper: number[]; labels?: boolean };
const BAR_COLORS = ["#4a66ae", "#3da548", "#fb8313"];
const BAR_W = 23.4;

function BarPlot(p: BarProps) {
  const ref = useRef<HTMLCanvasElement>(null);
  const padL = p.labels ? 30 : 8, padT = 14, padB = 10;
  const width = p.end - p.axis + padL + 2;
  const height = p.bottom - p.top + padT + padB;
  const firstCentre = p.axis + (p.labels ? 28.7 : 14.7);
  useEffect(() => {
    const chart = new Chart(ref.current!, {
      type: "bar",
      data: {
        datasets: [{
          label: barGroups.join(" / "),
          data: p.values.map((y, x) => ({ x, y })),
          backgroundColor: BAR_COLORS,
          barThickness: BAR_W,
          borderWidth: 0,
        }],
      },
      options: {
        animation: false,
        responsive: false,
        maintainAspectRatio: false,
        layout: { padding: { top: padT, right: 2, left: 0, bottom: 0 } },
        plugins: { legend: { display: false }, tooltip: { enabled: false }, errorBars: { upper: p.upper } } as any,
        scales: {
          x: {
            type: "linear",
            offset: false,
            min: (p.axis - firstCentre) / BAR_W,
            max: (p.end - firstCentre) / BAR_W,
            afterFit: (s: any) => { s.height = padB; },
            ticks: { display: false },
            grid: { display: false, offset: false },
            border: { display: true, color: "#000", width: 1.5 },
          },
          y: {
            type: "linear", min: 0, max: 100,
            afterBuildTicks: (s: any) => { s.ticks = barYTicks.map((value) => ({ value })); },
            afterFit: (s: any) => { s.width = padL; },
            ticks: { display: !!p.labels, padding: 3, color: "#333", font: { family: FONT, size: 12 } },
            grid: { display: true, drawOnChartArea: false, tickLength: 5, tickColor: "#000", tickWidth: 1.5 },
            border: { display: true, color: "#000", width: 2 },
          },
        } as any,
      },
      plugins: [errorPlugin],
    } as any);
    return () => chart.destroy();
  }, []);
  return <canvas ref={ref} width={width} height={height} style={{ position: "absolute", left: p.axis - padL, top: p.top - padT, width, height }} />;
}

function Txt(p: { x: number; y: number; c?: string; italic?: boolean; size?: number; anchor?: "l" | "c"; children: React.ReactNode }) {
  return (
    <div style={{
      position: "absolute", left: p.x, top: p.y, whiteSpace: "pre", color: p.c || "#333", fontFamily: FONT,
      fontStyle: p.italic ? "italic" : "normal", fontSize: p.size || 12.4, lineHeight: "14px",
      transform: p.anchor === "c" ? "translate(-50%,-50%)" : "translateY(-50%)",
    }}>{p.children}</div>
  );
}

function VTxt(p: { x: number; y: number; size?: number; children: React.ReactNode }) {
  return (
    <div style={{
      position: "absolute", left: p.x, top: p.y, whiteSpace: "pre", color: "#333", fontFamily: FONT, fontSize: p.size || 12.4,
      lineHeight: "14px", transform: "translate(-50%,-50%) rotate(-90deg)",
    }}>{p.children}</div>
  );
}

function Arrow(p: { x0: number; x1: number; x2: number; x3: number; y: number }) {
  return (
    <svg width={540} height={20} style={{ position: "absolute", left: 0, top: p.y - 10 }}>
      <line x1={p.x0} x2={p.x1} y1={10} y2={10} stroke="#222" strokeWidth={1.5} />
      <line x1={p.x2} x2={p.x3 - 6} y1={10} y2={10} stroke="#222" strokeWidth={1.5} />
      <polygon points={`${p.x3 - 11},4 ${p.x3},10 ${p.x3 - 11},16`} fill="#111" />
    </svg>
  );
}

const RED = "#ef6540";
const GRN = "#55a868";
const Sup = (p: { children: string }) => <span style={{ fontSize: 8, position: "relative", top: -4 }}>{p.children}</span>;

const a1Layers: Layer[] = [
  { data: a1Column, color: CORE_PURPLE },
  { data: a1Purple, color: DOT_PURPLE, r: 0.6 },
  { data: a1Blob, color: ORANGE },
  { data: a1Edge, color: ORANGE, r: 1.1 },
  { data: a1Orange, color: DOT_ORANGE, r: 0.8 },
  { data: a1Halo, color: HALO },
  { data: a1Green, color: DOT_GREEN, r: 0.7 },
  { data: a1GreenCloud, color: "rgba(88,173,94,0.06)" },
];
const a2Layers: Layer[] = [
  { data: a2Column, color: "rgba(70,50,130,0.55)" },
  { data: a2Purple, color: DOT_PURPLE, r: 0.7 },
  { data: a2Blob, color: ORANGE },
  { data: a2Edge, color: ORANGE, r: 1 },
  { data: a2Orange, color: DOT_ORANGE, r: 0.7 },
  { data: a2Halo, color: HALO },
  { data: a2Green, color: DOT_GREEN, r: 0.8 },
  { data: a2GreenCloud, color: "rgba(88,173,94,0.1)" },
];
const a3Layers: Layer[] = [
  { data: a3Blob, color: ORANGE },
  { data: a3Edge, color: ORANGE, r: 1.1 },
  { data: a3Orange, color: DOT_ORANGE, r: 0.7 },
  { data: a3Halo, color: HALO },
  { data: a3Purple, color: DOT_PURPLE, r: 0.8 },
  { data: a3PurpleCloud, color: "rgba(80,60,160,0.16)" },
];
const b1Layers: Layer[] = [
  { data: b1ColumnEdge, color: "rgba(85,36,142,0.8)" },
  { data: b1Column, color: "#3d8f52" },
  { data: b1Dense, color: ORANGE, r: 0.9 },
  { data: b1Orange, color: DOT_ORANGE, r: 0.8 },
  { data: b1Band, color: "rgba(251,106,53,0.12)" },
  { data: b1Green, color: DOT_GREEN, r: 0.7 },
  { data: b1Purple, color: DOT_PURPLE, r: 0.7 },
];
const b2Layers: Layer[] = [
  { data: b2Column, color: "rgba(70,110,90,0.6)" },
  { data: b2Purple, color: DOT_PURPLE, r: 0.7 },
  { data: b2Dense, color: ORANGE, r: 1 },
  { data: b2Orange, color: DOT_ORANGE, r: 0.7 },
  { data: b2Band, color: "rgba(251,90,40,0.3)" },
  { data: b2Green, color: DOT_GREEN, r: 0.7 },
];
const b3Layers: Layer[] = [
  { data: b3Blob, color: "#ff6228" },
  { data: b3Edge, color: ORANGE, r: 1 },
  { data: b3Orange, color: DOT_ORANGE, r: 0.8 },
  { data: b3Halo, color: "rgba(251,106,53,0.32)" },
  { data: b3GreenCore, color: "#53a158" },
  { data: b3Green, color: DOT_GREEN, r: 0.9 },
  { data: b3GreenCloud, color: "rgba(70,120,110,0.3)" },
  { data: b3Purple, color: DOT_PURPLE, r: 0.8 },
];

export default function App() {
  return (
    <div style={{ position: "absolute", left: 0, top: 0, width: 540, height: 791, overflow: "hidden", background: "#fff" }}>
      <Txt x={2} y={6}>(a)  GZMB-Tom-OT1</Txt>
      <Txt x={2} y={201}>(b)  GZMB-Tom-OT2</Txt>
      <Txt x={2} y={400}>(c)</Txt>
      <Txt x={2} y={598}>(d)</Txt>

      <FlowPlot left={42} right={159} top={27} bottom={143} xRange={[1.01, 5.27]} yRange={[1.08, 5.37]} xZero={1.56} yZero={1.6} gate={a1Gate} layers={a1Layers} rightEdge />
      <FlowPlot left={222} right={340} top={27} bottom={143} xRange={[1.05, 5.37]} yRange={[1.08, 5.37]} xZero={1.41} yZero={1.52} gate={a2Gate} layers={a2Layers} rightEdge />
      <FlowPlot left={423} right={540} top={27} bottom={143} xRange={[1.08, 5.37]} yRange={[1.08, 5.37]} xZero={1.56} yZero={1.6} layers={a3Layers} />
      <FlowPlot left={42} right={159} top={222} bottom={339} xRange={[1.01, 5.27]} yRange={[1.05, 5.34]} xZero={1.6} yZero={1.56} gate={b1Gate} layers={b1Layers} rightEdge />
      <FlowPlot left={222} right={340} top={222} bottom={339} xRange={[1.05, 5.37]} yRange={[1.05, 5.34]} xZero={1.41} yZero={1.56} gate={b2Gate} layers={b2Layers} rightEdge />
      <FlowPlot left={423} right={540} top={222} bottom={339} xRange={[1.08, 5.37]} yRange={[1.05, 5.34]} xZero={1.56} yZero={1.56} layers={b3Layers} />

      <Txt x={66} y={38} c={RED}>64%</Txt><Txt x={96} y={38} c={GRN}>75·9%</Txt>
      <Txt x={68} y={50} c={RED} italic>1084</Txt><Txt x={100} y={50} c={GRN} italic>1683</Txt>
      <Txt x={236} y={39} c={RED}>68·1%</Txt><Txt x={275} y={39} c={GRN}>73·7%</Txt>
      <Txt x={247} y={52} c={RED} italic>1704</Txt><Txt x={277} y={52} c={GRN} italic>2199</Txt>
      <Txt x={57} y={242} c={RED}>9·1%</Txt><Txt x={91} y={242} c={GRN}>8·6%</Txt>
      <Txt x={67} y={254} c={RED} italic>550</Txt><Txt x={93} y={254} c={GRN} italic>500</Txt>
      <Txt x={237} y={250} c={RED}>12·3%</Txt><Txt x={276} y={250} c={GRN}>10%</Txt>
      <Txt x={246} y={263} c={RED} italic>1213</Txt><Txt x={278} y={263} c={GRN} italic>1620</Txt>

      <VTxt x={6} y={87}>GZMB-Tom</VTxt>
      <VTxt x={187} y={79}>GZMB</VTxt>
      <VTxt x={387} y={79}>CD44</VTxt>
      <VTxt x={8} y={278}>GZMB-Tom</VTxt>
      <VTxt x={189} y={282}>GZMB</VTxt>
      <VTxt x={394} y={282}>CD44</VTxt>
      <Txt x={483} y={171} anchor="c">GZMB-Tom</Txt>
      <Txt x={481} y={367} anchor="c">GZMB-Tom</Txt>
      <Arrow x0={47} x1={184} x2={222} x3={346} y={167} />
      <Txt x={205} y={166} anchor="c">CTV</Txt>
      <Arrow x0={49} x1={187} x2={225} x3={348} y={365} />
      <Txt x={207} y={363} anchor="c">CTV</Txt>

      <BarPlot axis={91} end={210} top={399} bottom={565} values={c1Values} upper={c1Upper} labels />
      <BarPlot axis={210} end={315} top={399} bottom={565} values={c2Values} upper={c2Upper} />
      <BarPlot axis={315} end={420} top={399} bottom={565} values={c3Values} upper={c3Upper} />
      <BarPlot axis={420} end={511} top={399} bottom={565} values={c4Values} upper={c4Upper} />
      <BarPlot axis={91} end={210} top={596} bottom={762} values={d1Values} upper={d1Upper} labels />
      <BarPlot axis={210} end={315} top={596} bottom={762} values={d2Values} upper={d2Upper} />
      <BarPlot axis={315} end={419} top={596} bottom={762} values={d3Values} upper={d3Upper} />
      <BarPlot axis={419} end={511} top={596} bottom={762} values={d4Values} upper={d4Upper} />

      <VTxt x={28} y={483} size={13}>Among OT1 cells</VTxt>
      <VTxt x={49} y={482} size={13}>% divided cells</VTxt>
      <VTxt x={196} y={483} size={13}>% GZMB-Tom<Sup>+</Sup></VTxt>
      <VTxt x={301} y={483} size={13}>% CD44<Sup>hi</Sup></VTxt>
      <VTxt x={406} y={485} size={13}>% GZMB-APC<Sup>+</Sup></VTxt>
      <VTxt x={29} y={679} size={13}>Among OT2 cells</VTxt>
      <VTxt x={49} y={679} size={13}>% divided cells</VTxt>
      <VTxt x={196} y={679} size={13}>% GZMB-Tom<Sup>+</Sup></VTxt>
      <VTxt x={302} y={679} size={13}>% CD44<Sup>hi</Sup></VTxt>
      <VTxt x={406} y={680} size={13}>% GZMB-APC<Sup>+</Sup></VTxt>

      <div style={{ position: "absolute", left: 32, top: 773, width: 19, height: 18, background: "#120f7c" }} />
      <Txt x={58} y={782} c="#2c2a86">{barGroups[0]}</Txt>
      <div style={{ position: "absolute", left: 220, top: 773, width: 19, height: 18, background: "#43a636" }} />
      <Txt x={246} y={782} c="#3f9a5c">{barGroups[1]}</Txt>
      <div style={{ position: "absolute", left: 401, top: 773, width: 19, height: 18, background: "#fb7d12" }} />
      <Txt x={428} y={782} c="#e5604e">ActA-OVA  60 hr</Txt>
    </div>
  );
}
